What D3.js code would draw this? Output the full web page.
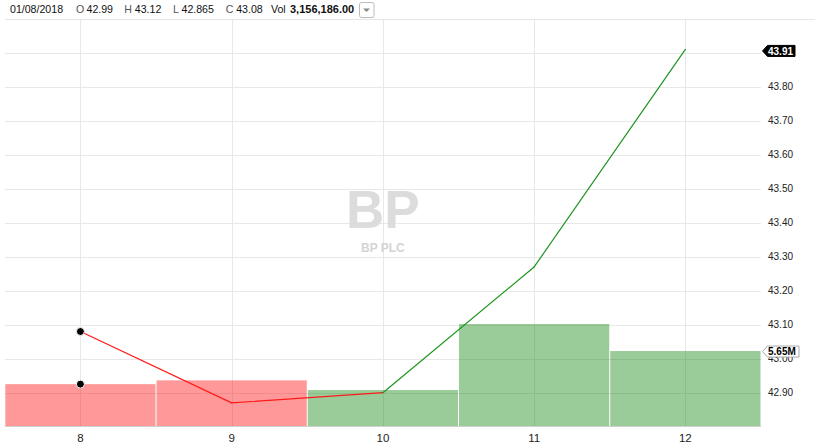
<!DOCTYPE html>
<html>
<head>
<meta charset="utf-8">
<script src="https://cdn.jsdelivr.net/npm/d3@7"></script>
<style>
  body { margin: 0; background: #fff; }
  svg { display: block; font-family: Helvetica, Arial, "Liberation Sans", sans-serif; }
</style>
</head>
<body>
<svg id="chart" width="815" height="445"></svg>
<script>
// data
var dates = ['8', '9', '10', '11', '12'];
var closes = [43.08, 42.87, 42.90, 43.27, 43.91];
var volumes = [3.156186, 3.44, 2.71, 7.69, 5.65]; // millions
var moves = ['down', 'down', 'up', 'up', 'up'];
var priceTicks = [42.9, 43.0, 43.1, 43.2, 43.3, 43.4, 43.5, 43.6, 43.7, 43.8, 43.9];
var ohlcLabels = ['O', 'H', 'L', 'C'];
var ohlcValues = ['42.99', '43.12', '42.865', '43.08'];
var headerDate = '01/08/2018';
var headerVol = '3,156,186.00';

var svg = d3.select('#chart');
var plotLeft = 4.8, plotRight = 761, plotTop = 28, plotBottom = 426;

var x = d3.scaleBand().domain(dates).range([plotLeft, plotRight]);
var yPrice = d3.scaleLinear().domain([42.802, 43.973]).range([plotBottom, plotTop]);
var yVol = d3.scaleLinear().domain([0, 30]).range([plotBottom, plotTop]);

var colour = { up: '#008000', down: '#ff0000' };
var lineColour = { up: '#1f941f', down: '#ff1a1a' };

// header separator
svg.append('line')
  .attr('x1', 5).attr('x2', 815).attr('y1', 19.5).attr('y2', 19.5)
  .attr('stroke', '#e6e6e6');

// grid
svg.append('g').selectAll('line')
  .data(priceTicks)
  .enter().append('line')
  .attr('x1', plotLeft).attr('x2', plotRight)
  .attr('y1', d => Math.round(yPrice(d)) + 0.5)
  .attr('y2', d => Math.round(yPrice(d)) + 0.5)
  .attr('stroke', '#e8e8e8');

svg.append('g').selectAll('line')
  .data(dates)
  .enter().append('line')
  .attr('x1', d => Math.round(x(d) + x.bandwidth() / 2) + 0.5)
  .attr('x2', d => Math.round(x(d) + x.bandwidth() / 2) + 0.5)
  .attr('y1', 20).attr('y2', plotBottom)
  .attr('stroke', '#e8e8e8');

// watermark
svg.append('text')
  .attr('x', (plotLeft + plotRight) / 2).attr('y', 228)
  .attr('text-anchor', 'middle')
  .attr('font-size', 53).attr('font-weight', 'bold')
  .attr('fill', '#dcdcdc')
  .text('BP');
svg.append('text')
  .attr('x', (plotLeft + plotRight) / 2).attr('y', 252)
  .attr('text-anchor', 'middle')
  .attr('font-size', 12).attr('font-weight', 'bold')
  .attr('fill', '#d4d4d4')
  .text('BP PLC');

// volume bars
svg.append('g').selectAll('rect')
  .data(volumes)
  .enter().append('rect')
  .attr('x', (d, i) => x(dates[i]) + 0.5)
  .attr('width', x.bandwidth() - 1)
  .attr('y', d => yVol(d))
  .attr('height', d => plotBottom - yVol(d))
  .attr('fill', (d, i) => colour[moves[i]])
  .attr('fill-opacity', 0.4);

// x axis line
svg.append('line')
  .attr('x1', plotLeft).attr('x2', plotRight).attr('y1', plotBottom + 0.5).attr('y2', plotBottom + 0.5)
  .attr('stroke', '#d0d0d0');

// price line, each segment coloured by the day it starts from
var cx = d => x(d) + x.bandwidth() / 2;
var segs = d3.range(closes.length - 1);
svg.append('g').selectAll('line')
  .data(segs)
  .enter().append('line')
  .attr('x1', i => cx(dates[i])).attr('y1', i => yPrice(closes[i]))
  .attr('x2', i => cx(dates[i + 1])).attr('y2', i => yPrice(closes[i + 1]))
  .attr('stroke', i => lineColour[moves[i]])
  .attr('stroke-width', 1.2)
  .attr('stroke-linecap', 'round');

// hover markers on the first day
svg.append('circle')
  .attr('cx', cx(dates[0])).attr('cy', yPrice(closes[0])).attr('r', 4)
  .attr('fill', '#000').attr('stroke', '#fff').attr('stroke-width', 1);
svg.append('circle')
  .attr('cx', cx(dates[0])).attr('cy', yVol(volumes[0])).attr('r', 4)
  .attr('fill', '#000').attr('stroke', '#fff').attr('stroke-width', 1);

// x labels
svg.append('g').selectAll('text')
  .data(dates)
  .enter().append('text')
  .attr('x', d => cx(d)).attr('y', 442)
  .attr('text-anchor', 'middle')
  .attr('font-size', 11.5).attr('fill', '#222')
  .text(d => d);

// price labels
svg.append('g').selectAll('text')
  .data(priceTicks)
  .enter().append('text')
  .attr('x', 768).attr('y', d => yPrice(d) + 3.5)
  .attr('font-size', 10).attr('fill', '#222')
  .text(d => d3.format('.2f')(d));

// last value tags
function tag(yc, label, fill, stroke, textFill, w) {
  var x0 = 762.5, h = 11;
  var g = svg.append('g');
  g.append('path')
    .attr('d', 'M' + x0 + ',' + yc + 'L' + (x0 + 5) + ',' + (yc - h / 2) +
      'H' + (x0 + w) + 'V' + (yc + h / 2) + 'H' + (x0 + 5) + 'Z')
    .attr('fill', fill).attr('stroke', stroke);
  g.append('text')
    .attr('x', x0 + 5.5).attr('y', yc + 3.6)
    .attr('font-size', 10).attr('font-weight', 'bold')
    .attr('fill', textFill)
    .text(label);
}
tag(yPrice(closes[closes.length - 1]) + 1.5, d3.format('.2f')(closes[closes.length - 1]), '#000', '#000', '#fff', 32.5);
tag(yVol(volumes[volumes.length - 1]) + 0.5, volumes[volumes.length - 1].toFixed(2) + 'M', '#fff', '#aaa', '#000', 36.5);

// header
var hdr = svg.append('g').attr('font-size', 10.6).attr('fill', '#111');
hdr.append('text').attr('x', 10).attr('y', 13).text(headerDate);
var ohlcX = [76, 124.3, 173, 225.7];
var ohlcGap = [10.5, 10.5, 8.5, 10.5];
ohlcLabels.forEach(function (l, i) {
  var t = hdr.append('text').attr('y', 13);
  t.append('tspan').attr('x', ohlcX[i]).attr('fill', '#555').text(l);
  t.append('tspan').attr('x', ohlcX[i] + ohlcGap[i]).text(ohlcValues[i]);
});
var vol = hdr.append('text').attr('y', 13);
vol.append('tspan').attr('x', 271).text('Vol');
vol.append('tspan').attr('x', 290).attr('font-size', 11).attr('font-weight', 'bold').text(headerVol);

svg.append('rect')
  .attr('x', 359.5).attr('y', 2.5).attr('width', 14.5).attr('height', 15).attr('rx', 2)
  .attr('fill', '#fff').attr('stroke', '#bbb');
svg.append('path')
  .attr('d', 'M363,8.5L370,8.5L366.5,12Z')
  .attr('fill', '#888');
</script>
</body>
</html>
